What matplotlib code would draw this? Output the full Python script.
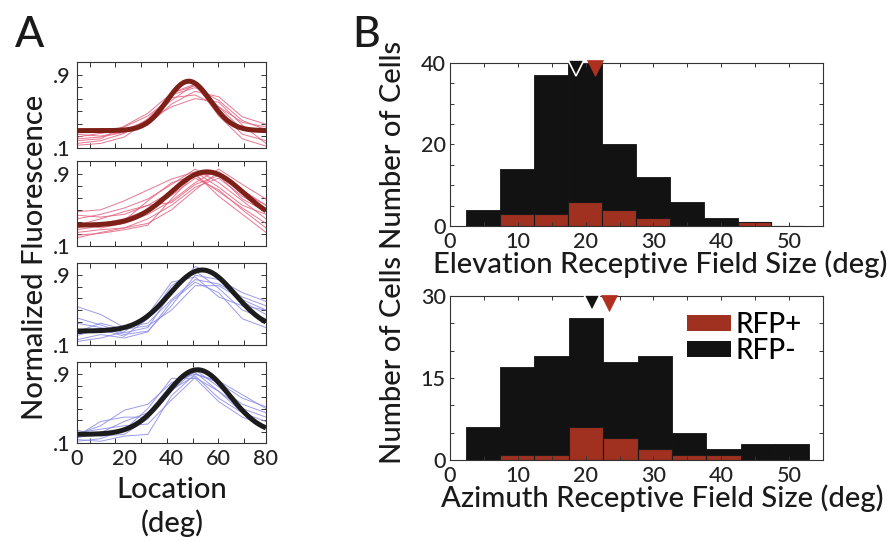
import numpy as np
import matplotlib
matplotlib.use('Agg')
import matplotlib.pyplot as plt
from matplotlib.patches import Patch

plt.rcParams['font.family'] = ['Lato', 'DejaVu Sans']
plt.rcParams['font.weight'] = 'medium'
plt.rcParams['axes.linewidth'] = 0.8

# ---------------- panel A data ----------------
loc_deg = [0, 10, 20, 30, 40, 50, 60, 70, 80]

# single cells
red_cells_1 = [
    [0.20, 0.22, 0.27, 0.40, 0.62, 0.80, 0.55, 0.30, 0.27],
    [0.15, 0.18, 0.26, 0.42, 0.68, 0.76, 0.62, 0.40, 0.30],
    [0.25, 0.23, 0.28, 0.35, 0.58, 0.72, 0.66, 0.44, 0.36],
    [0.13, 0.15, 0.22, 0.40, 0.70, 0.80, 0.45, 0.20, 0.12],
    [0.30, 0.28, 0.33, 0.45, 0.65, 0.68, 0.55, 0.38, 0.33],
    [0.18, 0.20, 0.34, 0.48, 0.70, 0.78, 0.50, 0.25, 0.18],
    [0.22, 0.26, 0.30, 0.40, 0.55, 0.64, 0.60, 0.35, 0.15],
]
red_cells_2 = [
    [0.48, 0.50, 0.60, 0.72, 0.84, 0.92, 0.75, 0.55, 0.45],
    [0.44, 0.42, 0.45, 0.55, 0.70, 0.88, 0.90, 0.70, 0.55],
    [0.40, 0.45, 0.52, 0.62, 0.78, 0.95, 0.80, 0.60, 0.40],
    [0.35, 0.30, 0.35, 0.45, 0.60, 0.80, 0.95, 0.78, 0.62],
    [0.30, 0.35, 0.40, 0.50, 0.66, 0.85, 0.72, 0.50, 0.30],
    [0.25, 0.28, 0.30, 0.40, 0.55, 0.75, 0.85, 0.65, 0.50],
    [0.19, 0.25, 0.30, 0.35, 0.50, 0.72, 0.92, 0.72, 0.55],
    [0.22, 0.24, 0.28, 0.33, 0.62, 0.90, 0.65, 0.45, 0.25],
    [0.28, 0.32, 0.38, 0.60, 0.80, 0.88, 0.70, 0.52, 0.35],
    [0.33, 0.40, 0.48, 0.55, 0.58, 0.78, 0.88, 0.62, 0.48],
]
blue_cells_3 = [
    [0.54, 0.45, 0.30, 0.35, 0.62, 0.85, 0.80, 0.65, 0.55],
    [0.41, 0.33, 0.24, 0.30, 0.70, 1.00, 0.88, 0.60, 0.45],
    [0.35, 0.30, 0.22, 0.26, 0.55, 0.90, 0.85, 0.70, 0.60],
    [0.21, 0.28, 0.20, 0.40, 0.78, 0.95, 0.75, 0.50, 0.40],
    [0.16, 0.22, 0.18, 0.25, 0.60, 0.82, 0.70, 0.40, 0.30],
    [0.14, 0.18, 0.25, 0.45, 0.82, 0.88, 0.65, 0.55, 0.50],
    [0.25, 0.35, 0.28, 0.32, 0.50, 0.78, 0.78, 0.62, 0.50],
]
blue_cells_4 = [
    [0.20, 0.30, 0.48, 0.55, 0.80, 0.90, 0.80, 0.62, 0.52],
    [0.16, 0.22, 0.35, 0.45, 0.78, 0.92, 0.70, 0.50, 0.40],
    [0.25, 0.18, 0.20, 0.38, 0.72, 0.88, 0.62, 0.45, 0.35],
    [0.12, 0.15, 0.25, 0.50, 0.85, 0.85, 0.58, 0.40, 0.30],
    [0.18, 0.35, 0.40, 0.40, 0.70, 0.95, 0.75, 0.55, 0.45],
    [0.14, 0.12, 0.18, 0.20, 0.65, 0.90, 0.82, 0.66, 0.50],
    [0.22, 0.26, 0.30, 0.32, 0.60, 0.86, 0.70, 0.45, 0.28],
]

# gaussian fit of the population (thick line): baseline, amplitude, centre, sd
fit_base = [0.29, 0.33, 0.26, 0.20]
fit_amp = [0.54, 0.59, 0.70, 0.75]
fit_mu = [47.3, 55.0, 53.0, 51.0]
fit_sd = [9.2, 15.5, 13.8, 13.5]

# ---------------- panel B data ----------------
elev_edges = [2.4, 7.4, 12.4, 17.4, 22.4, 27.4, 32.4, 37.4, 42.4, 47.4, 52.4]
elev_rfp_neg = [4, 14, 37, 40, 20, 12, 6, 2, 1, 0]
elev_rfp_pos = [0, 3, 3, 6, 4, 2, 0, 0, 1, 0]
elev_median = [18.6, 21.4]   # RFP-, RFP+

azim_edges = [2.3, 7.4, 12.4, 17.5, 22.6, 27.7, 32.7, 37.8, 42.9, 47.9, 53.0]
azim_rfp_neg = [6, 17, 19, 26, 18, 19, 5, 2, 3, 3]
azim_rfp_pos = [0, 1, 1, 6, 4, 2, 1, 1, 0, 0]
azim_median = [20.9, 23.5]

red_thin = '#e4607e'
blue_thin = '#8a8ae6'
red_fit = '#7d2118'
black_fit = '#1c1c1c'
bar_black = '#121212'
bar_red = '#a0301f'
tick_col = '#222222'
txt_col = '#1a1a1a'
lab_fs = 21

fig = plt.figure(figsize=(8.9, 5.41), dpi=100)
W, H = 890.0, 541.0

def px_axes(l, t, r, b):
    return fig.add_axes([l / W, 1 - b / H, (r - l) / W, (b - t) / H])

# ---------------- panel A ----------------
a_boxes = [(77, 62, 266, 148), (77, 161, 266, 246), (77, 263, 266, 345), (77, 362, 266, 443)]
cells = [red_cells_1, red_cells_2, blue_cells_3, blue_cells_4]
thin_cols = [red_thin, red_thin, blue_thin, blue_thin]
fit_cols = [red_fit, red_fit, black_fit, black_fit]
xs = np.linspace(0, 80, 161)

for i, box in enumerate(a_boxes):
    ax = px_axes(*box)
    for c in cells[i]:
        ax.plot(loc_deg, c, color=thin_cols[i], lw=0.7, alpha=0.85)
    fit = fit_base[i] + fit_amp[i] * np.exp(-(xs - fit_mu[i]) ** 2 / (2 * fit_sd[i] ** 2))
    ax.plot(xs, fit, color=fit_cols[i], lw=3.6, solid_capstyle='butt')
    ax.set_xlim(0, 80)
    ax.set_ylim(0.1, 1.04)
    ax.set_yticks([0.1, 0.9])
    ax.set_yticklabels(['.1', '.9'])
    ax.set_yticks(np.linspace(0.1, 0.9, 7)[1:-1], minor=True)
    ax.set_xticks([0, 20, 40, 60, 80])
    ax.set_xticks(np.arange(5.3, 80, 10.9), minor=True)
    ax.tick_params(which='both', direction='in', top=True, right=True,
                   length=3.6, width=0.7, color='#333333', labelsize=15.5,
                   labelcolor=tick_col)
    ax.tick_params(axis='x', which='major', length=0, pad=4)
    ax.tick_params(axis='y', pad=5)
    if i < 3:
        ax.set_xticklabels([])
    for s in ax.spines.values():
        s.set_color('#333333')

fig.text(15 / W, 1 - 46.7 / H, 'A', fontsize=31, color=txt_col, va='baseline')
fig.text(43 / W, 1 - 257.5 / H, 'Normalized Fluorescence', fontsize=lab_fs, color=txt_col,
         rotation=90, rotation_mode='anchor', ha='center', va='baseline')
fig.text(172 / W, 1 - 498 / H, 'Location', fontsize=lab_fs, color=txt_col,
         ha='center', va='baseline')
fig.text(172 / W, 1 - 531.7 / H, '(deg)', fontsize=lab_fs, color=txt_col,
         ha='center', va='baseline')

# ---------------- panel B ----------------
def hist_panel(box, edges, neg, pos, med, ymax, yticks, tri_y):
    ax = px_axes(*box)
    edges = np.array(edges)
    ax.bar(edges[:-1], neg, width=np.diff(edges), align='edge',
           color=bar_black, edgecolor=bar_black, lw=0.6)
    ax.bar(edges[:-1], pos, width=np.diff(edges), align='edge',
           color=bar_red, edgecolor='#1a1a1a', lw=0.8)
    tr = ax.get_xaxis_transform()
    ax.plot(med[0], tri_y, 'v', ms=12, mfc=bar_black, mec='white', mew=1.2,
            transform=tr, clip_on=False, zorder=5)
    ax.plot(med[1], tri_y, 'v', ms=12, mfc='#b0301f', mec='#b0301f', mew=0.5,
            transform=tr, clip_on=False, zorder=5)
    ax.set_xlim(0, 55)
    ax.set_ylim(0, ymax)
    ax.set_xticks(range(0, 51, 10))
    ax.set_xticks(range(5, 55, 10), minor=True)
    ax.set_yticks(yticks)
    ax.set_yticks([v for v in range(0, ymax + 1, 5) if v not in yticks], minor=True)
    ax.tick_params(which='both', direction='in', top=True, right=True,
                   length=3, width=0.7, color='#333333', labelsize=15.5,
                   labelcolor=tick_col, pad=3)
    ax.tick_params(axis='x', pad=4.5)
    for s in ax.spines.values():
        s.set_color('#333333')
    return ax

ax_e = hist_panel((450, 63, 823, 226), elev_edges, elev_rfp_neg, elev_rfp_pos,
                  elev_median, 40, [0, 20, 40], 0.972)
ax_a = hist_panel((450, 296, 823, 460), azim_edges, azim_rfp_neg, azim_rfp_pos,
                  azim_median, 30, [0, 15, 30], 0.96)

ax_a.legend(handles=[Patch(facecolor=bar_red, label='RFP+'),
                     Patch(facecolor=bar_black, label='RFP-')],
            loc='upper left', bbox_to_anchor=(0.635, 0.905), frameon=False,
            fontsize=20, handlelength=1.6, handleheight=0.5, handletextpad=0.15,
            labelspacing=0.0, borderpad=0, borderaxespad=0)

fig.text(352 / W, 1 - 47 / H, 'B', fontsize=31, color=txt_col, va='baseline')
fig.text(401 / W, 1 - 144.5 / H, 'Number of Cells', fontsize=lab_fs, color=txt_col,
         rotation=90, rotation_mode='anchor', ha='center', va='baseline')
fig.text(401 / W, 1 - 360 / H, 'Number of Cells', fontsize=lab_fs, color=txt_col,
         rotation=90, rotation_mode='anchor', ha='center', va='baseline')
fig.text(660 / W, 1 - 273 / H, 'Elevation Receptive Field Size (deg)', fontsize=lab_fs,
         color=txt_col, ha='center', va='baseline')
fig.text(662 / W, 1 - 507 / H, 'Azimuth Receptive Field Size (deg)', fontsize=lab_fs,
         color=txt_col, ha='center', va='baseline')

fig.savefig('out.png', dpi=100)
